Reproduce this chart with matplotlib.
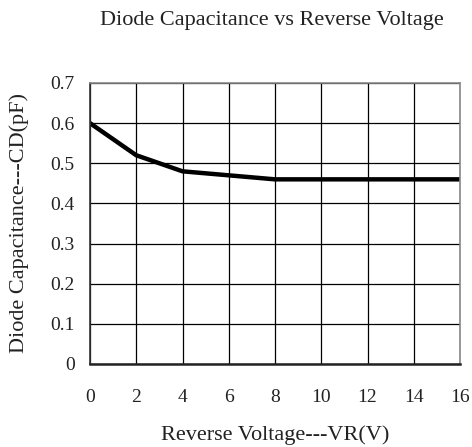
import matplotlib.pyplot as plt

# reverse voltage (V) and diode capacitance (pF)
voltage = [0, 2, 4, 6, 8, 10, 12, 14, 16]
capacitance = [0.60, 0.52, 0.48, 0.47, 0.46, 0.46, 0.46, 0.46, 0.46]

x_ticks = [0, 2, 4, 6, 8, 10, 12, 14, 16]
y_ticks = [0, 0.1, 0.2, 0.3, 0.4, 0.5, 0.6, 0.7]
y_tick_labels = ['0', '0.1', '0.2', '0.3', '0.4', '0.5', '0.6', '0.7']

plt.rcParams['font.family'] = ['Liberation Serif', 'DejaVu Serif']

fig = plt.figure(figsize=(4.72, 4.47), dpi=100)
ax = fig.add_axes([90 / 472, 1 - 364 / 447, 370 / 472, 281 / 447])

ax.plot(voltage, capacitance, color='black', linewidth=3.2, solid_joinstyle='round')

ax.set_xlim(0, 16)
ax.set_ylim(0, 0.7)
ax.set_xticks(x_ticks)
ax.set_yticks(y_ticks)
ax.set_yticklabels(y_tick_labels)
ax.tick_params(length=0, labelsize=14, colors='#222222')
ax.tick_params(axis='x', pad=18)
ax.tick_params(axis='y', pad=11)
ax.grid(True, color='black', linewidth=0.9)

for side in ['top', 'right']:
    ax.spines[side].set_color('#888888')
    ax.spines[side].set_linewidth(1.2)
ax.spines['left'].set_color('#333333')
ax.spines['bottom'].set_color('#222222')
ax.spines['left'].set_linewidth(1.2)
ax.spines['bottom'].set_linewidth(1.8)

ax.set_xlabel('Reverse Voltage---VR(V)', fontsize=16, color='#222222', labelpad=14)
ax.yaxis.set_label_coords(-71 / 370, 0.5)
ax.set_ylabel('Diode Capacitance---CD(pF)', fontsize=16, color='#222222', va='center')
fig.text(272 / 472, 1 - 20 / 447, 'Diode Capacitance vs Reverse Voltage',
         fontsize=16, color='#222222', ha='center', va='center')

fig.savefig('out.png', dpi=100)
